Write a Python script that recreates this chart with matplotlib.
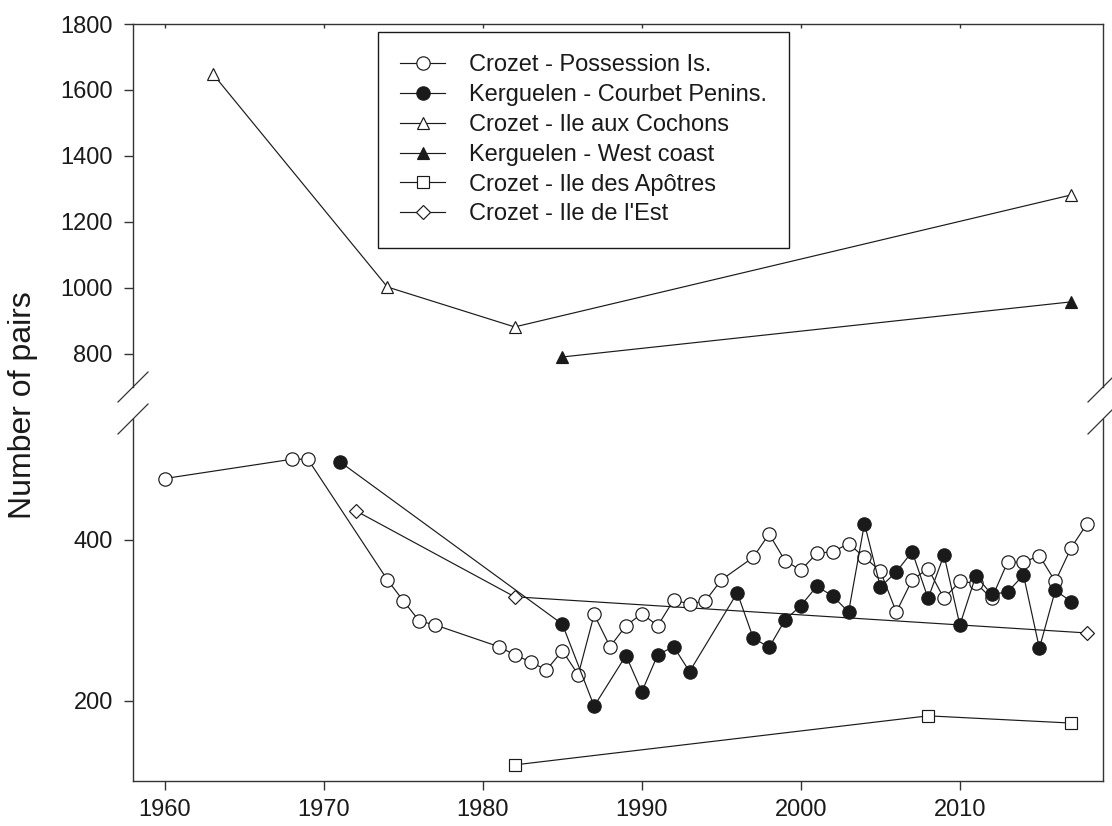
import matplotlib
matplotlib.use("Agg")
import matplotlib.pyplot as plt
from matplotlib.lines import Line2D

plt.rcParams['font.family'] = ['Liberation Sans', 'DejaVu Sans']

# ---------------- data ----------------
poss_years = [1960, 1968, 1969, 1974, 1975, 1976, 1977, 1981, 1982, 1983, 1984, 1985,
              1986, 1987, 1988, 1989, 1990, 1991, 1992, 1993, 1994, 1995, 1997, 1998,
              1999, 2000, 2001, 2002, 2003, 2004, 2005, 2006, 2007, 2008, 2009, 2010,
              2011, 2012, 2013, 2014, 2015, 2016, 2017, 2018]
poss_pairs = [476, 500, 500, 350, 324, 299, 294, 267, 257, 248, 238, 262,
              232, 307, 267, 293, 308, 293, 325, 320, 324, 350, 378, 407,
              374, 362, 383, 385, 395, 378, 361, 310, 350, 364, 327, 348,
              346, 327, 372, 372, 380, 348, 390, 420]

courb_years = [1971, 1985, 1987, 1989, 1990, 1991, 1992, 1993, 1996, 1997, 1998, 1999,
               2000, 2001, 2002, 2003, 2004, 2005, 2006, 2007, 2008, 2009, 2010, 2011,
               2012, 2013, 2014, 2015, 2016, 2017]
courb_pairs = [497, 295, 193, 256, 211, 257, 267, 236, 334, 278, 266, 300,
               318, 342, 330, 310, 420, 341, 360, 385, 327, 381, 294, 355,
               332, 335, 356, 265, 337, 323]

coch_years = [1963, 1974, 1982, 2017]
coch_pairs = [1650, 1003, 882, 1282]

west_years = [1985, 2017]
west_pairs = [791, 958]

apot_years = [1982, 2008, 2017]
apot_pairs = [120, 181, 172]

est_years = [1972, 1982, 2018]
est_pairs = [436, 329, 284]

labels = ["Crozet - Possession Is.", "Kerguelen - Courbet Penins.",
          "Crozet - Ile aux Cochons", "Kerguelen - West coast",
          "Crozet - Ile des Apôtres", "Crozet - Ile de l'Est"]

x_ticks = [1960, 1970, 1980, 1990, 2000, 2010]
top_yticks = [800, 1000, 1200, 1400, 1600, 1800]
bot_yticks = [200, 400]

# ---------------- figure ----------------
W, H = 1112, 826
fig = plt.figure(figsize=(W / 100, H / 100), dpi=100)

L, R = 133, 1103
top_t, top_b = 24, 387
bot_t, bot_b = 419, 781
ax_top = fig.add_axes([L / W, 1 - top_b / H, (R - L) / W, (top_b - top_t) / H])
ax_bot = fig.add_axes([L / W, 1 - bot_b / H, (R - L) / W, (bot_b - bot_t) / H])

ink = '#1a1a1a'
lw = 0.85
mew = 0.85
common = dict(color=ink, lw=lw, mec=ink, mew=mew)

# bottom panel
h_apot, = ax_bot.plot(apot_years, apot_pairs, marker='s', ms=8.8, mfc='white', **common)
h_est, = ax_bot.plot(est_years, est_pairs, marker='D', ms=7.4, mfc='white', **common)
h_poss, = ax_bot.plot(poss_years, poss_pairs, marker='o', ms=9.6, mfc='white', **common)
h_courb, = ax_bot.plot(courb_years, courb_pairs, marker='o', ms=9.6, mfc=ink, **common)

# top panel
h_coch, = ax_top.plot(coch_years, coch_pairs, marker='^', ms=8.8, mfc='white', **common)
h_west, = ax_top.plot(west_years, west_pairs, marker='^', ms=8.8, mfc=ink, **common)

FS = 17
for ax in (ax_top, ax_bot):
    ax.set_xlim(1958, 2019)
    for s in ax.spines.values():
        s.set_linewidth(1.0)
        s.set_color('#333333')
    ax.tick_params(axis='both', labelsize=FS, color='#333333', width=1.0,
                   length=6.5, direction='out', labelcolor=ink)
    ax.set_xticks(x_ticks)

ax_top.set_ylim(700, 1800)
ax_top.set_yticks(top_yticks)
ax_top.spines['bottom'].set_visible(False)
ax_top.tick_params(axis='x', bottom=False, labelbottom=False, top=True,
                   direction='in', length=3)
ax_top.tick_params(axis='y', pad=8)

ax_bot.set_ylim(100, 550)
ax_bot.set_yticks(bot_yticks)
ax_bot.spines['top'].set_visible(False)
ax_bot.tick_params(axis='x', pad=6.5)
ax_bot.tick_params(axis='y', pad=8)

# axis break marks
for (x, y) in [(L, top_b), (L, bot_t), (R, top_b), (R, bot_t)]:
    fig.add_artist(Line2D([(x - 15) / W, (x + 15) / W],
                          [1 - (y + 15) / H, 1 - (y - 15) / H],
                          transform=fig.transFigure, color='#333333', lw=0.9))

fig.text(23 / W, 1 - 405 / H, 'Number of pairs', rotation=90,
         ha='center', va='center', fontsize=23, color=ink)

leg = ax_top.legend([h_poss, h_courb, h_coch, h_west, h_apot, h_est], labels,
                    loc='upper left', bbox_to_anchor=(378 / W, 1 - 32 / H),
                    bbox_transform=fig.transFigure, borderaxespad=0,
                    fontsize=FS, frameon=True, fancybox=False, framealpha=1,
                    edgecolor=ink, handlelength=1.9, handletextpad=1.0,
                    labelspacing=0.33, borderpad=0.95)
leg.get_frame().set_linewidth(1.0)
for t in leg.get_texts():
    t.set_color(ink)

fig.savefig('out.png', dpi=100)
